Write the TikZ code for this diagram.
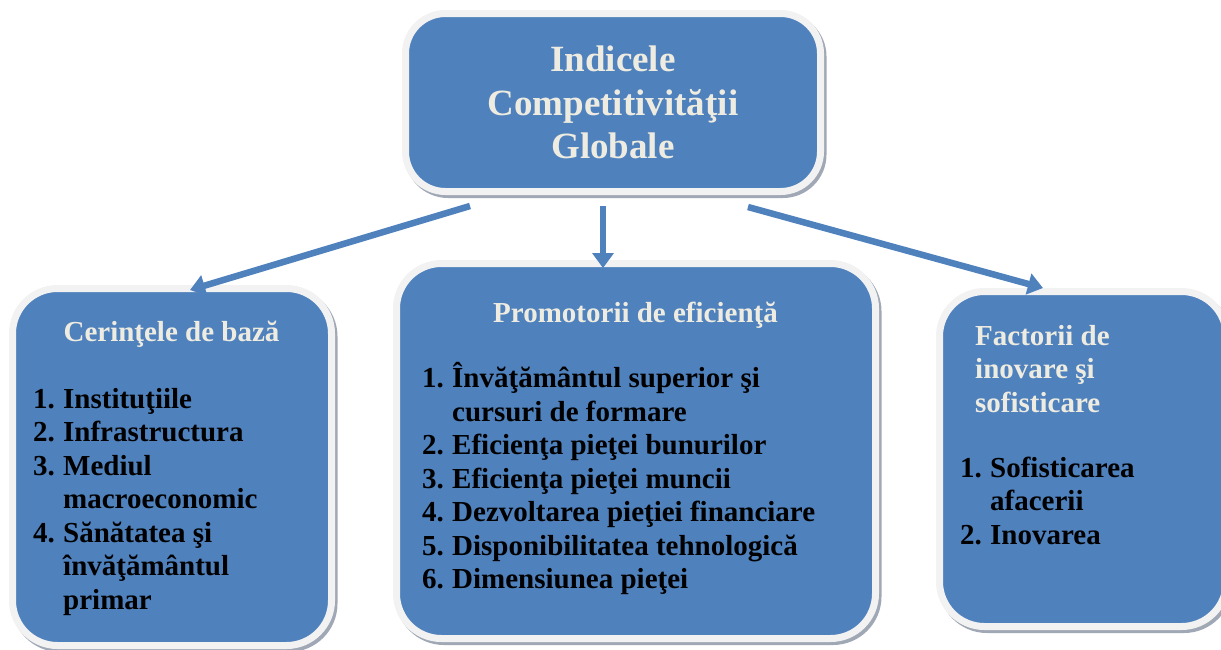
\documentclass[tikz,border=0pt]{standalone}
\usepackage{fontspec}
\setmainfont{Liberation Serif}
\usetikzlibrary{arrows.meta, positioning, shadows}
\definecolor{boxblue}{RGB}{79, 129, 189}
\definecolor{rimgray}{RGB}{242, 242, 242}
\definecolor{shadegray}{RGB}{160, 168, 182}
\definecolor{titlecream}{RGB}{238, 236, 225}
\newcommand{\nr}[1]{\makebox[30pt][l]{#1}}

\begin{document}
\begin{tikzpicture}[x=1pt, y=-1pt,
  pillar/.style={rectangle, rounded corners=45pt, fill=boxblue, draw=rimgray, line width=7pt,
    drop shadow={shadow xshift=2.5pt, shadow yshift=-3pt, fill=shadegray, draw=shadegray, line width=7pt, opacity=1}},
  head/.style={text=titlecream, font=\fontsize{29}{33.5}\selectfont\bfseries, inner sep=0pt},
  items/.style={text=black, font=\fontsize{29}{33.5}\selectfont\bfseries, align=left, anchor=north west, inner sep=0pt},
  link/.style={draw=boxblue, line width=6.5pt, -{Triangle[length=15pt, width=21pt]}}]
  \useasboundingbox (0,0) rectangle (1221,649);

  % the index and its three pillars
  \node[pillar, minimum width=415pt, minimum height=178pt, rounded corners=40pt, text=titlecream, align=center, font=\fontsize{37}{43.5}\selectfont\bfseries] (gci) at (613,102.5) {Indicele\\Competitivităţii\\Globale};
  \node[pillar, minimum width=319pt, minimum height=357pt] (base) at (172,467) {};
  \node[pillar, minimum width=479pt, minimum height=375pt] (eff) at (636,451) {};
  \node[pillar, minimum width=287pt, minimum height=335pt] (inov) at (1083,459) {};

  % texts inside the pillars
  \node[head, anchor=base] (baseT) at (171.5,341) {Cerinţele de bază};
  \node[items] (baseL) at (33,384.5) {\strut\nr{1.}Instituţiile\\ \nr{2.}Infrastructura\\ \nr{3.}Mediul\\ \nr{}macroeconomic\\ \nr{4.}Sănătatea şi\\ \nr{}învăţământul\\ \nr{}primar};

  \node[head, anchor=base] (effT) at (635.5,322) {Promotorii de eficienţă};
  \node[items] (effL) at (422,362.5) {\strut\nr{1.}Învăţământul superior şi\\ \nr{}cursuri de formare\\ \nr{2.}Eficienţa pieţei bunurilor\\ \nr{3.}Eficienţa pieţei muncii\\ \nr{4.}Dezvoltarea pieţiei financiare\\ \nr{5.}Disponibilitatea tehnologică\\ \nr{6.}Dimensiunea pieţei};

  \node[head, align=left, anchor=north west] (inovT) at (975,321.5) {\strut Factorii de\\inovare şi\\sofisticare};
  \node[items] (inovL) at (960,453.5) {\strut\nr{1.}Sofisticarea\\ \nr{}afacerii\\ \nr{2.}Inovarea};

  % arrows
  \draw[link] ([xshift=-143pt, yshift=-11pt]gci.south) -- ([xshift=18pt, yshift=-5pt]base.north);
  \draw[link] ([xshift=-10pt, yshift=-11pt]gci.south) -- ([xshift=-33pt, yshift=-8pt]eff.north);
  \draw[link] ([xshift=135pt, yshift=-12pt]gci.south) -- ([xshift=-40pt]inov.north);
\end{tikzpicture}
\end{document}
